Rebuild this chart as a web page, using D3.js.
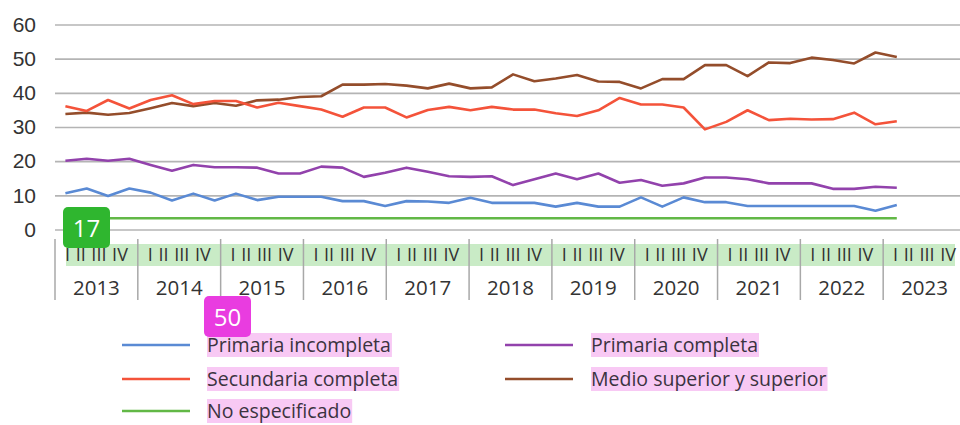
<!DOCTYPE html>
<html>
<head>
<meta charset="utf-8">
<script src="https://cdn.jsdelivr.net/npm/d3@7"></script>
<style>
  html, body { margin: 0; padding: 0; background: #fff; }
  svg { display: block; font-family: "Open Sans", sans-serif; }
</style>
</head>
<body>
<div id="chart"></div>
<script>
// Quarterly shares by schooling level, 2013-I .. 2022-IV (40 points)
const years = ['2013','2014','2015','2016','2017','2018','2019','2020','2021','2022','2023'];
const quarterNames = ['I','II','III','IV'];
const quarters = years.slice(0, 10).flatMap(y => quarterNames.map(q => y + '-' + q));
const yTicks = [0, 10, 20, 30, 40, 50, 60];

const primariaIncompleta = [10.6,12.0,9.8,12.0,10.8,8.5,10.5,8.5,10.5,8.6,
  9.6,9.6,9.6,8.3,8.3,6.9,8.3,8.2,7.8,9.3,
  7.8,7.8,7.8,6.7,7.8,6.7,6.7,9.4,6.7,9.4,
  8.0,8.0,6.9,6.9,6.9,6.9,6.9,6.9,5.5,7.2];
const primariaCompleta = [20.1,20.7,20.1,20.7,18.9,17.2,18.9,18.2,18.2,18.1,
  16.4,16.4,18.4,18.1,15.4,16.6,18.1,16.9,15.6,15.4,
  15.6,13.0,14.7,16.4,14.7,16.4,13.7,14.5,12.8,13.5,
  15.2,15.2,14.7,13.5,13.5,13.5,11.9,11.9,12.5,12.2];
const secundariaCompleta = [36.1,34.7,37.9,35.4,37.9,39.3,36.7,37.6,37.6,35.7,
  37.1,36.1,35.1,33.0,35.7,35.7,32.8,35.0,35.9,34.9,
  35.9,35.1,35.1,34.0,33.2,34.9,38.5,36.6,36.6,35.7,
  29.3,31.5,34.9,32.0,32.4,32.2,32.3,34.2,30.8,31.7];
const medioSuperior = [33.8,34.2,33.6,34.1,35.5,37.0,36.1,37.0,36.2,37.8,
  38.0,38.8,39.0,42.4,42.4,42.6,42.1,41.3,42.7,41.3,
  41.6,45.4,43.4,44.2,45.2,43.3,43.2,41.3,44.0,44.0,
  48.1,48.1,44.9,48.9,48.7,50.3,49.6,48.6,51.8,50.5];
const noEspecificado = [3.3,3.3,3.3,3.3,3.3,3.3,3.3,3.3,3.3,3.3,
  3.3,3.3,3.3,3.3,3.3,3.3,3.3,3.3,3.3,3.3,
  3.3,3.3,3.3,3.3,3.3,3.3,3.3,3.3,3.3,3.3,
  3.3,3.3,3.3,3.3,3.3,3.3,3.3,3.3,3.3,3.3];

const series = [
  { name: 'Primaria incompleta', values: primariaIncompleta, color: '#5a8ad4' },
  { name: 'Primaria completa', values: primariaCompleta, color: '#9242ac' },
  { name: 'Secundaria completa', values: secundariaCompleta, color: '#f4533a' },
  { name: 'Medio superior y superior', values: medioSuperior, color: '#944d2b' },
  { name: 'No especificado', values: noEspecificado, color: '#62b846' }
];
// legend grid order: [column, row]
const legendSlots = [[0,0],[1,0],[0,1],[1,1],[0,2]];
const legendRowY = [345, 379, 411];

const W = 960, H = 425;
const svg = d3.select('#chart').append('svg').attr('width', W).attr('height', H);

const x = d3.scalePoint().domain(quarters).range([65.4, 896.8]);
const xYear = d3.scaleBand().domain(years).range([55, 966]);
const y = d3.scaleLinear().domain([0, 60]).range([229.5, 24.5]);

// Gridlines + y labels
const yAxis = svg.append('g').attr('transform', 'translate(55,0)')
  .call(d3.axisLeft(y).tickValues(yTicks).tickSize(-(W - 55)).tickPadding(19));
yAxis.select('.domain').remove();
yAxis.selectAll('.tick line').attr('stroke', '#b4b4b4').attr('stroke-width', 1.6);
yAxis.selectAll('.tick text').attr('fill', '#333').attr('font-size', 21);

// Lines
const line = d3.line().x((d, i) => x(quarters[i])).y(d => y(d));
series.slice().reverse().forEach(s => {
  svg.append('path').datum(s.values)
    .attr('d', line)
    .attr('fill', 'none')
    .attr('stroke', s.color)
    .attr('stroke-width', 2.6)
    .attr('stroke-linejoin', 'round');
});

// Category axis: quarter band highlight, separators, labels
svg.append('rect').attr('x', 66).attr('y', 244).attr('width', 889).attr('height', 22)
  .attr('fill', '#c9ebc6');

svg.append('g').selectAll('line').data(years).join('line')
  .attr('x1', d => xYear(d)).attr('x2', d => xYear(d))
  .attr('y1', 239).attr('y2', 300)
  .attr('stroke', '#a8a8a8').attr('stroke-width', 1.5);

svg.append('g').selectAll('text').data(years).join('text')
  .attr('x', d => xYear(d) + xYear.bandwidth() / 2).attr('y', 255)
  .attr('dy', '0.35em').attr('text-anchor', 'middle')
  .attr('font-size', 18).attr('fill', '#333')
  .attr('word-spacing', 1)
  .text(quarterNames.join(' '));

svg.append('g').selectAll('text').data(years).join('text')
  .attr('x', d => xYear(d) + xYear.bandwidth() / 2).attr('y', 288)
  .attr('dy', '0.35em').attr('text-anchor', 'middle')
  .attr('font-size', 20.5).attr('fill', '#333')
  .text(d => d);

// Legend
const legend = svg.append('g');
series.forEach((s, i) => {
  const [col, row] = legendSlots[i];
  const lx = col === 0 ? 122 : 505;
  const tx = col === 0 ? 207 : 591;
  const ly = legendRowY[row];
  legend.append('line').attr('x1', lx).attr('x2', lx + 68).attr('y1', ly).attr('y2', ly)
    .attr('stroke', s.color).attr('stroke-width', 2.6);
  const hl = legend.append('rect').attr('fill', '#f8c9f4');
  const t = legend.append('text').attr('x', tx).attr('y', ly).attr('dy', '0.35em')
    .attr('font-size', 19.5).attr('fill', '#3b3340').text(s.name);
  const len = t.node().getComputedTextLength();
  hl.attr('x', tx).attr('y', ly - 12).attr('width', len + 1).attr('height', 24);
});

// Annotation badges
function badge(bx, by, label, color) {
  svg.append('rect').attr('x', bx).attr('y', by).attr('width', 47).attr('height', 41)
    .attr('rx', 5).attr('fill', color);
  svg.append('text').attr('x', bx + 23.5).attr('y', by + 22).attr('dy', '0.35em')
    .attr('text-anchor', 'middle').attr('font-size', 24).attr('fill', '#fff').text(label);
}
badge(63, 207, '17', '#2fb62f');
badge(204, 296, '50', '#e93ce0');
</script>
</body>
</html>
